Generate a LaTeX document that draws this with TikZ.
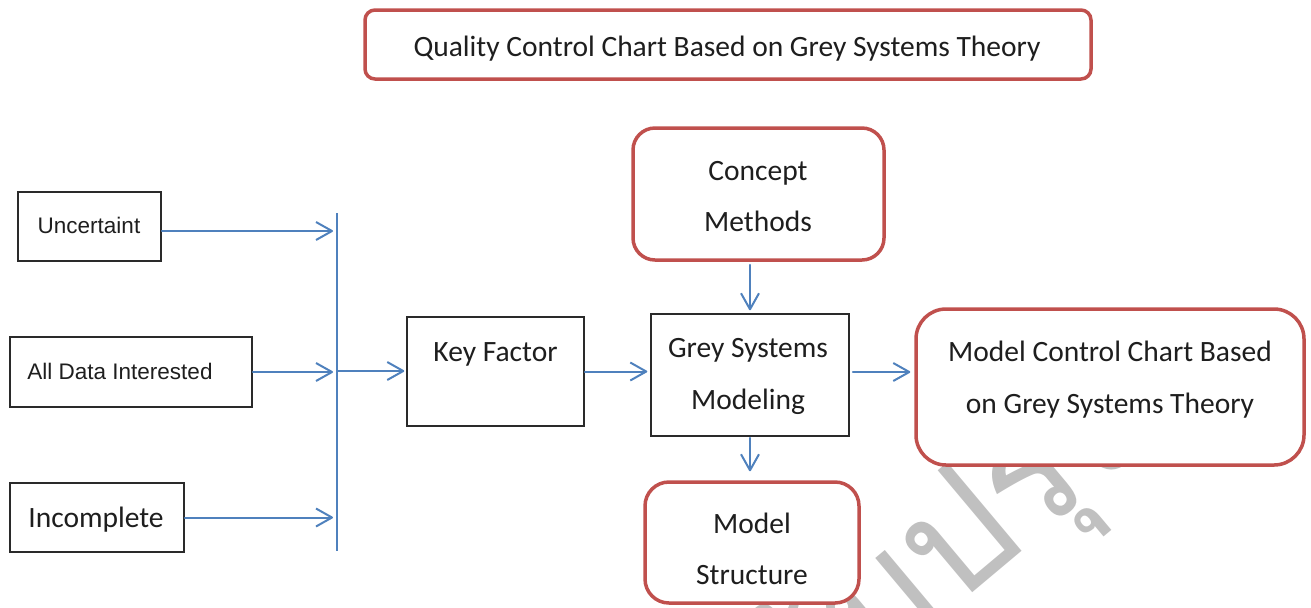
\documentclass[tikz,border=0pt]{standalone}
\usepackage{fontspec}
\setmainfont{Carlito}
\newfontfamily\arialfont{Liberation Sans}
\newfontfamily\thaifont[Script=Thai]{Loma}
\usetikzlibrary{arrows.meta}
\definecolor{boxred}{HTML}{C0504D}
\definecolor{lineblue}{HTML}{4F81BD}
\definecolor{wmgrey}{HTML}{C0C0C0}
\definecolor{txt}{HTML}{1E1E1E}
\definecolor{boxline}{HTML}{2A2A2A}
\begin{document}
\begin{tikzpicture}[x=0.5pt,y=-0.5pt,
  redbox/.style={draw=boxred, line width=1.75pt, fill=white, inner sep=0pt},
  blackbox/.style={draw=boxline, line width=0.75pt, fill=white, inner sep=0pt},
  lbl/.style={text=txt, inner sep=0pt, anchor=base, font=\fontsize{14.75pt}{18pt}\selectfont},
  albl/.style={text=txt, inner sep=0pt, anchor=base, font=\arialfont\fontsize{11.25pt}{14pt}\selectfont},
  arr/.style={draw=lineblue, line width=1pt, line cap=round, -{Straight Barb[length=8pt,width=9pt,line join=round]}},
  hubline/.style={draw=lineblue, line width=1pt}
]
\useasboundingbox (0,0) rectangle (1311,607);

% watermark
\begin{scope}
\clip (0,0) rectangle (1311,607);
\node[rotate=40, text=wmgrey, inner sep=0pt, anchor=base east,
      font=\thaifont\fontsize{80pt}{80pt}\selectfont] (wm) at (1155,440) {ฉบับปรับปรุง};
\end{scope}

% boxes
\node[redbox, rounded corners=5pt, minimum width=363pt, minimum height=34.5pt] (title) at (728,44.5) {};
\node[redbox, rounded corners=11pt, minimum width=125.5pt, minimum height=66pt] (concept) at (758.5,194) {};
\node[redbox, rounded corners=15pt, minimum width=194pt, minimum height=78pt] (modelctl) at (1110,387) {};
\node[redbox, rounded corners=12pt, minimum width=107pt, minimum height=60.5pt] (structure) at (752,542.5) {};
\node[blackbox, minimum width=71.5pt, minimum height=34.5pt] (unc) at (89.5,226.5) {};
\node[blackbox, minimum width=121pt, minimum height=35pt] (alldata) at (131,372) {};
\node[blackbox, minimum width=87pt, minimum height=34.5pt] (incomp) at (97,517.5) {};
\node[blackbox, minimum width=88.5pt, minimum height=54.5pt] (key) at (495.5,371.5) {};
\node[blackbox, minimum width=99pt, minimum height=61pt] (grey) at (750,375) {};

% texts
\node[lbl] (tTitle) at (727,56) {Quality Control Chart Based on Grey Systems Theory};
\node[lbl] (tConcept) at (758,180) {Concept};
\node[lbl] (tMethods) at (758,231) {Methods};
\node[lbl] (tMcc1) at (1110,361) {Model Control Chart Based};
\node[lbl] (tMcc2) at (1110,413) {on Grey Systems Theory};
\node[lbl] (tModel) at (752,533) {Model};
\node[lbl] (tStruct) at (752,584) {Structure};
\node[lbl] (tKey) at (495.5,361) {Key Factor};
\node[lbl] (tGrey1) at (748,357) {Grey Systems};
\node[lbl] (tGrey2) at (748,409) {Modeling};
\node[albl] (tUnc) at (89,233) {Uncertaint};
\node[albl] (tAll) at (120,379) {All Data Interested};
\node[lbl] (tInc) at (96,527) {Incomplete};

% hub
\coordinate (hubtop) at (337,213);
\coordinate (hubbot) at (337,551);
\coordinate (hub) at (337,371);
\draw[hubline] (hubtop) -- (hubbot);

% connectors
\coordinate (uncout) at ([yshift=-2.25pt]unc.east);
\draw[arr, shorten >=2pt] (uncout) -- (uncout -| hub);
\draw[arr, shorten >=2pt] (alldata.east) -- (alldata.east -| hub);
\draw[arr, shorten >=2pt] (incomp.east) -- (incomp.east -| hub);
\draw[arr, shorten >=1pt] (hub) -- (hub -| key.west);
\draw[arr, shorten >=1.5pt] (key.east) -- (key.east -| grey.west);
\coordinate (g2m) at ([xshift=1.5pt,yshift=1.5pt]grey.east);
\draw[arr, shorten >=2pt] (g2m) -- (g2m -| modelctl.west);
\coordinate (c2g) at ([yshift=-1.5pt]concept.south -| grey.north);
\draw[arr, shorten >=1.5pt] (c2g) -- (grey.north);
\draw[arr, shorten <=0.5pt, shorten >=4.5pt] (grey.south) -- (structure.north -| grey.south);
\end{tikzpicture}
\end{document}
